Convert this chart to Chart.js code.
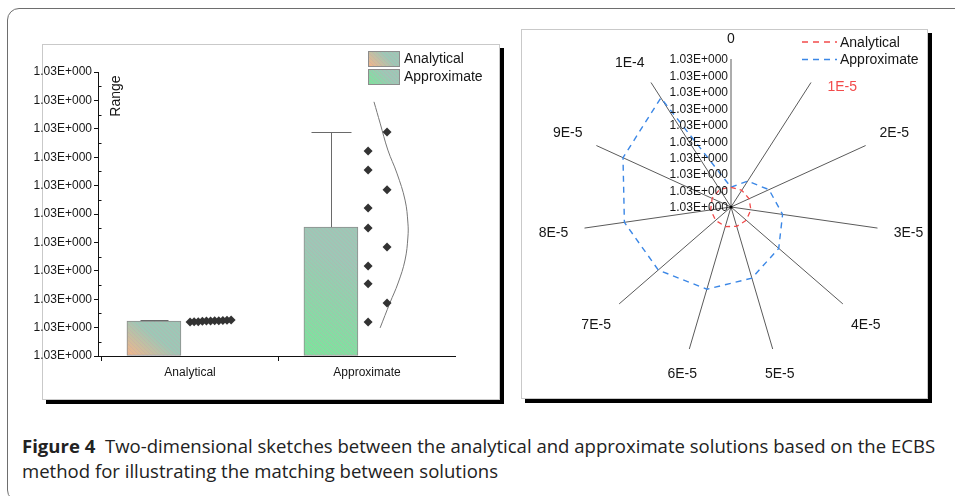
<!DOCTYPE html>
<html>
<head>
<meta charset="utf-8">
<script src="https://cdn.jsdelivr.net/npm/chart.js@4.4.1/dist/chart.umd.min.js"></script>
<style>
  body { margin: 0; width: 955px; height: 496px; overflow: hidden; position: relative; background: #fff; }
  #frame { position: absolute; left: 7px; top: 8px; width: 1000px; height: 492px; border: 1px solid #6e6e6e; border-radius: 12px; }
  .panel { position: absolute; background: #fff; border: 1px solid #c9c9c9; box-shadow: 4px 4px 0 #000; }
  #panel-left { left: 42px; top: 44px; width: 456px; height: 354px; }
  #panel-right { left: 521px; top: 29px; width: 405px; height: 368px; }
  canvas { position: absolute; }
  #chart-left { left: 20px; top: 44px; }
  #chart-right { left: 521px; top: 29px; }
  #caption { position: absolute; left: 22px; top: 434px; font-family: "Open Sans", sans-serif; font-size: 18px; line-height: 25px; color: #222; white-space: nowrap; }
  #caption .ln { transform-origin: 0 0; }
</style>
</head>
<body>
<div id="frame"></div>
<div class="panel" id="panel-left"></div>
<div class="panel" id="panel-right"></div>
<canvas id="chart-left" width="480" height="356"></canvas>
<canvas id="chart-right" width="406" height="370"></canvas>
<div id="caption">
  <div class="ln"><b>Figure 4</b>&nbsp; Two-dimensional sketches between the analytical and approximate solutions based on the ECBS</div>
  <div class="ln">method for illustrating the matching between solutions</div>
</div>
<script>
// values
const categories = ["Analytical", "Approximate"];
const yTickLabels = ["1.03E+000", "1.03E+000", "1.03E+000", "1.03E+000", "1.03E+000", "1.03E+000",
  "1.03E+000", "1.03E+000", "1.03E+000", "1.03E+000", "1.03E+000"];
const analyticalValues = [1.20, 1.21, 1.21, 1.22, 1.23, 1.23, 1.24, 1.24, 1.25, 1.26, 1.27];
const approximateValues = [1.20, 1.87, 2.54, 3.17, 3.84, 4.51, 5.21, 5.85, 6.55, 7.22, 7.89];
const barValues = [1.23, 4.54];
const barUpper = [1.27, 7.89];
// distribution curve beside the Approximate points
const curveValues = [8.95, 8.20, 7.25, 6.44, 5.49, 4.68, 4.19, 3.38, 2.57, 1.87, 0.99];
const curveDensity = [0.17, 0.32, 0.51, 0.73, 0.93, 1.0, 1.0, 0.93, 0.76, 0.56, 0.32];

const radarLabels = ["0", "1E-5", "2E-5", "3E-5", "4E-5", "5E-5", "6E-5", "7E-5", "8E-5", "9E-5", "1E-4"];
const radarTickLabels = ["1.03E+000", "1.03E+000", "1.03E+000", "1.03E+000", "1.03E+000",
  "1.03E+000", "1.03E+000", "1.03E+000", "1.03E+000", "1.03E+000"];

const FONT = '"Liberation Sans", Arial, sans-serif';
const COLORS = {
  text: "#161616",
  axis: "#111",
  barBorder: "#8c8c8c",
  barEnd: "#9dc8b6",
  barStart: ["#f6b587", "#7ae69b"],
  points: "#333",
  curve: "#777",
  error: "#6a6a6a",
  spokes: "#5a5a5a",
  red: "#f24b4b",
  blue: "#3b87e6",
};

const X_MIN = 0.48;
const X_MAX = 2.497;
const BAR_SHIFT = -0.204;
const BAR_W = 54;
const GRAD_SPAN = [[20, 26], [40, 95]];
const ANALYTIC_STEP = 0.0232;
const APPROX_COLS = [0.006, 0.113];
const CURVE_WIDTH = 0.231;
const CAP_HALF = [14, 20];

Chart.defaults.font.family = FONT;
Chart.defaults.color = COLORS.text;

function makeHatch() {
  const p = document.createElement("canvas");
  p.width = 4; p.height = 4;
  const c = p.getContext("2d");
  c.strokeStyle = "rgba(200, 160, 176, 0.34)";
  c.lineWidth = 1;
  c.beginPath();
  c.moveTo(-1, -1); c.lineTo(5, 5);
  c.stroke();
  return c.createPattern(p, "repeat");
}

function gradientFor(c, left, bottom, w, h, from) {
  const g = c.createLinearGradient(left, bottom, left + w, bottom - h);
  g.addColorStop(0, from);
  g.addColorStop(1, COLORS.barEnd);
  return g;
}

let hatch = null;

const leftDecor = {
  id: "leftDecor",
  afterDatasetDraw(chart, args) {
    if (args.meta.type !== "bar") return;
    const c = chart.ctx;
    hatch = hatch || makeHatch();
    args.meta.data.forEach((bar) => {
      const { x, y, base, width } = bar.getProps(["x", "y", "base", "width"], true);
      c.save();
      c.fillStyle = hatch;
      c.fillRect(x - width / 2 + 1, y + 1, width - 2, base - y - 1);
      c.restore();
    });
  },
  afterDraw(chart) {
    const c = chart.ctx;
    const xs = chart.scales.x;
    const ys = chart.scales.y;
    c.save();

    // error bars
    c.strokeStyle = COLORS.error;
    c.lineWidth = 1;
    barValues.forEach((v, i) => {
      const x = Math.round(xs.getPixelForValue(i + 1 + BAR_SHIFT)) + 0.5;
      const yb = ys.getPixelForValue(v);
      const yt = Math.round(ys.getPixelForValue(barUpper[i])) + 0.5;
      c.beginPath();
      c.moveTo(x, yb); c.lineTo(x, yt);
      c.moveTo(x - CAP_HALF[i], yt); c.lineTo(x + CAP_HALF[i], yt);
      c.stroke();
    });

    // minor ticks on the y axis
    c.strokeStyle = COLORS.axis;
    const ax = Math.round(chart.chartArea.left) + 0.5;
    for (let k = 0; k < yTickLabels.length - 1; k++) {
      const y = Math.round(ys.getPixelForValue(k + 0.5)) + 0.5;
      c.beginPath(); c.moveTo(ax, y); c.lineTo(ax + 3, y); c.stroke();
    }

    // "Range" title inside the plot
    c.fillStyle = COLORS.text;
    c.font = "14px " + FONT;
    c.translate(96, 52);
    c.rotate(-Math.PI / 2);
    c.textAlign = "center";
    c.textBaseline = "middle";
    c.fillText("Range", 0, 0);
    c.setTransform(1, 0, 0, 1, 0, 0);

    // legend
    c.font = "14px " + FONT;
    c.textAlign = "left";
    categories.forEach((name, i) => {
      const bx = 348, by = 7 + i * 18, bw = 31, bh = 15;
      c.fillStyle = gradientFor(c, bx, by + bh, 14, 14, COLORS.barStart[i]);
      c.fillRect(bx, by, bw, bh);
      c.fillStyle = hatch || makeHatch();
      c.fillRect(bx, by, bw, bh);
      c.strokeStyle = COLORS.barBorder;
      c.strokeRect(bx + 0.5, by + 0.5, bw, bh);
      c.fillStyle = COLORS.text;
      c.fillText(name, bx + 36, by + bh / 2 + 1);
    });
    c.restore();
  },
};

function initLeft() {
  const barData = barValues.map((v, i) => ({ x: i + 1 + BAR_SHIFT, y: v }));
  const analyticalPts = analyticalValues.map((v, i) => ({ x: 1 + i * ANALYTIC_STEP, y: v }));
  const approxPts = approximateValues.map((v, i) => ({ x: 2 + APPROX_COLS[i % 3 === 1 ? 1 : 0], y: v }));
  const curvePts = curveValues.map((v, i) => ({ x: 2 + curveDensity[i] * CURVE_WIDTH, y: v }));

  new Chart(document.getElementById("chart-left"), {
    type: "scatter",
    data: {
      datasets: [
        {
          type: "bar",
          data: barData,
          barThickness: BAR_W,
          borderColor: COLORS.barBorder,
          borderWidth: 1,
          borderSkipped: false,
          backgroundColor(ctx) {
            const chart = ctx.chart;
            if (ctx.type !== "data" || !chart.chartArea) return COLORS.barEnd;
            const i = ctx.dataIndex;
            const left = chart.scales.x.getPixelForValue(barData[i].x) - BAR_W / 2;
            const bottom = chart.scales.y.getPixelForValue(0);
            return gradientFor(chart.ctx, left, bottom, GRAD_SPAN[i][0], GRAD_SPAN[i][1], COLORS.barStart[i]);
          },
          order: 3,
        },
        {
          type: "scatter",
          data: analyticalPts,
          pointStyle: "rectRot",
          pointRadius: 4.5,
          backgroundColor: COLORS.points,
          borderColor: COLORS.points,
          borderWidth: 0,
          order: 1,
        },
        {
          type: "scatter",
          data: approxPts,
          pointStyle: "rectRot",
          pointRadius: 4.5,
          backgroundColor: COLORS.points,
          borderColor: COLORS.points,
          borderWidth: 0,
          order: 1,
        },
        {
          type: "line",
          data: curvePts,
          borderColor: COLORS.curve,
          borderWidth: 1,
          pointRadius: 0,
          tension: 0.4,
          fill: false,
          order: 2,
        },
      ],
    },
    options: {
      responsive: false,
      animation: false,
      events: [],
      layout: { padding: { left: 0, top: 28, right: 45, bottom: 0 } },
      plugins: { legend: { display: false }, tooltip: { enabled: false } },
      scales: {
        x: {
          type: "linear",
          min: X_MIN,
          max: X_MAX,
          offset: false,
          afterFit(s) { s.height = 44; },
          afterBuildTicks(s) { s.ticks = categories.map((_, i) => ({ value: i + 1 })); },
          grid: { drawOnChartArea: false, drawTicks: true, tickLength: 5, color: COLORS.axis },
          border: { color: COLORS.axis, width: 1 },
          ticks: {
            padding: 4,
            color: COLORS.text,
            font: { size: 12 },
            maxRotation: 0,
            autoSkip: false,
            callback: (v, i) => categories[i],
          },
        },
        y: {
          min: 0,
          max: 10,
          afterFit(s) { s.width = 78; },
          grid: { drawOnChartArea: false, drawTicks: true, tickLength: 4, color: COLORS.axis },
          border: { color: COLORS.axis, width: 1 },
          ticks: {
            stepSize: 1,
            padding: 2,
            color: COLORS.text,
            font: { size: 12 },
            callback: (v, i) => yTickLabels[i],
          },
        },
      },
    },
    plugins: [leftDecor],
  });
}

const radarDecor = {
  id: "radarDecor",
  afterDatasetsDraw(chart) {
    const r = chart.scales.r;
    const c = chart.ctx;
    c.save();

    // radial tick labels, right-aligned against the "0" spoke
    c.font = "12px " + FONT;
    c.fillStyle = COLORS.text;
    c.textAlign = "right";
    c.textBaseline = "middle";
    radarTickLabels.forEach((t, i) => {
      c.fillText(t, r.xCenter - 3, r.yCenter - r.getDistanceFromCenterForValue(i) + 1);
    });

    // centre dot
    c.fillStyle = "#000";
    c.beginPath(); c.arc(r.xCenter, r.yCenter, 1.6, 0, Math.PI * 2); c.fill();

    // spoke labels
    c.font = "14px " + FONT;
    c.textAlign = "center";
    radarLabels.forEach((t, i) => {
      const u = r.getPointPosition(i, 1);
      const dx = u.x - r.xCenter;
      const dy = u.y - r.yCenter;
      const hw = c.measureText(t).width / 2;
      const d = r.drawingArea + 16 + Math.abs(dx) * hw + Math.abs(dy) * 5;
      const p = r.getPointPosition(i, d);
      // the highlighted "1E-5" label sits lower and further right
      const nx = i === 1 ? 16 : (i === 10 ? -6 : 0);
      const ny = i === 1 ? 27 : (i === 10 ? 3 : 0);
      c.fillStyle = i === 1 ? COLORS.red : COLORS.text;
      c.fillText(t, p.x + nx, p.y + 1 + ny);
    });

    // legend
    const items = [["Analytical", COLORS.red], ["Approximate", COLORS.blue]];
    c.textAlign = "left";
    items.forEach(([name, col], i) => {
      const y = 13 + i * 17.5;
      c.strokeStyle = col;
      c.lineWidth = 1.3;
      c.setLineDash([6, 5]);
      c.beginPath(); c.moveTo(281, y); c.lineTo(316, y); c.stroke();
      c.setLineDash([]);
      c.fillStyle = COLORS.text;
      c.fillText(name, 319, y + 1);
    });
    c.restore();
  },
};

function initRight() {
  new Chart(document.getElementById("chart-right"), {
    type: "radar",
    data: {
      labels: radarLabels,
      datasets: [
        {
          label: "Analytical",
          data: analyticalValues,
          borderColor: COLORS.red,
          borderWidth: 1.3,
          borderDash: [5, 4],
          pointRadius: 0,
          fill: false,
        },
        {
          label: "Approximate",
          data: approximateValues,
          borderColor: COLORS.blue,
          borderWidth: 1.4,
          borderDash: [6, 5],
          pointRadius: 0,
          fill: false,
        },
      ],
    },
    options: {
      responsive: false,
      animation: false,
      events: [],
      layout: { padding: { left: 62, top: 30, right: 48, bottom: 44 } },
      plugins: { legend: { display: false }, tooltip: { enabled: false } },
      scales: {
        r: {
          min: 0,
          max: 9,
          startAngle: 0,
          ticks: { display: false, stepSize: 1 },
          grid: { display: false },
          angleLines: { display: true, color: COLORS.spokes, lineWidth: 1 },
          pointLabels: { display: false },
          afterFit(s) {
            const ca = s.chart.chartArea;
            s.xCenter = Math.round((ca.left + ca.right) / 2);
            s.yCenter = Math.round((ca.top + ca.bottom) / 2);
            s.drawingArea = Math.min(ca.right - ca.left, ca.bottom - ca.top) / 2;
          },
        },
      },
    },
    plugins: [radarDecor],
  });
}

function fitCaption() {
  const lines = document.querySelectorAll("#caption .ln");
  const w = lines[0].scrollWidth;
  const k = 913 / w;
  lines.forEach((el) => { el.style.transform = "scaleX(" + k + ")"; });
}

document.addEventListener("DOMContentLoaded", () => {
  initLeft();
  initRight();
  fitCaption();
});
</script>
</body>
</html>
